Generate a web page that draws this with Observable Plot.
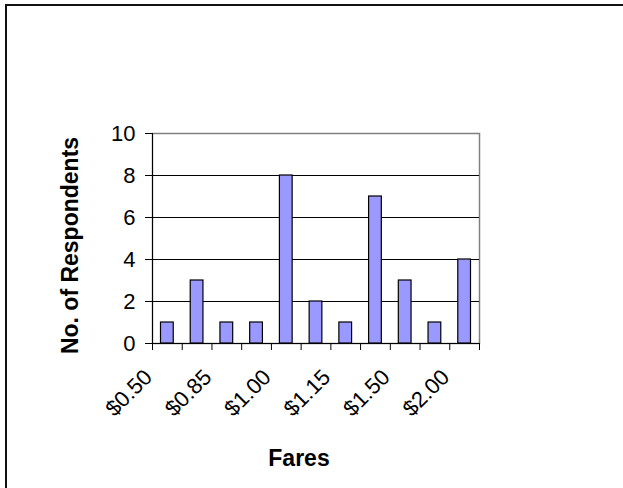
<!DOCTYPE html>
<html>
<head>
<meta charset="utf-8">
<script src="https://cdn.jsdelivr.net/npm/d3@7"></script>
<script src="https://cdn.jsdelivr.net/npm/@observablehq/plot@0.6"></script>
<style>
  html, body { margin: 0; padding: 0; background: #fff; overflow: hidden; }
  #wrap { position: relative; width: 623px; height: 488px; }
  #border { position: absolute; left: 5px; top: 4px; width: 700px; height: 600px;
            border-top: 2px solid #111; border-left: 2px solid #111; pointer-events: none; }
  svg { display: block; }
</style>
</head>
<body>
<div id="wrap"><div id="border"></div></div>
<script>
const fares = ["$0.50", "$0.75", "$0.85", "$0.90", "$1.00", "$1.10", "$1.15", "$1.25", "$1.50", "$1.75", "$2.00"];
const respondents = [1, 3, 1, 1, 8, 2, 1, 7, 3, 1, 4];
const yTicks = [0, 2, 4, 6, 8, 10];
const xTitle = "Fares";
const yTitle = "No. of Respondents";

const data = fares.map((f, i) => ({fare: f, i, n: respondents[i]}));
const labeled = data.filter(d => d.i % 2 === 0);

const chart = Plot.plot({
  width: 623,
  height: 488,
  marginLeft: 152,
  marginRight: 144,
  marginTop: 133,
  marginBottom: 145,
  style: {fontFamily: "'Liberation Sans', Arial, sans-serif", fontSize: "22px", color: "#000", background: "transparent"},
  x: {domain: [0, fares.length], axis: null},
  y: {domain: [0, 10], axis: null},
  marks: [
    Plot.frame({stroke: "#808080", strokeWidth: 1.5}),
    Plot.ruleY(yTicks.filter(t => t > 0 && t < 10), {stroke: "#000", strokeWidth: 1}),
    Plot.rectY(data, {x1: d => d.i, x2: d => d.i + 1, y: "n", insetLeft: 8.5, insetRight: 8.5,
      fill: "#9999ff", stroke: "#000", strokeWidth: 1.2}),
    Plot.axisY(yTicks, {tickSize: 7, tickPadding: 10, fontSize: 22, label: null, stroke: "#000"}),
    Plot.axisX(d3.range(fares.length + 1), {tickSize: 7, tickFormat: () => "", label: null, stroke: "#000"}),
    Plot.ruleX([0], {stroke: "#000"}),
    Plot.ruleY([0], {stroke: "#000"}),
    Plot.text(labeled, {x: d => d.i + 0.5, y: 0, text: "fare", rotate: -45, textAnchor: "end",
      lineAnchor: "bottom", dx: -14, dy: 35, fontSize: 22}),
    Plot.text([yTitle], {frameAnchor: "left", text: d => d, rotate: -90, textAnchor: "middle",
      lineAnchor: "middle", dx: -82, dy: 7, fontSize: 23, fontWeight: "bold"}),
    Plot.text([xTitle], {frameAnchor: "bottom", text: d => d, textAnchor: "middle",
      lineAnchor: "middle", dx: -17, dy: 115, fontSize: 23, fontWeight: "bold"})
  ]
});
document.getElementById("wrap").prepend(chart);
</script>
</body>
</html>
